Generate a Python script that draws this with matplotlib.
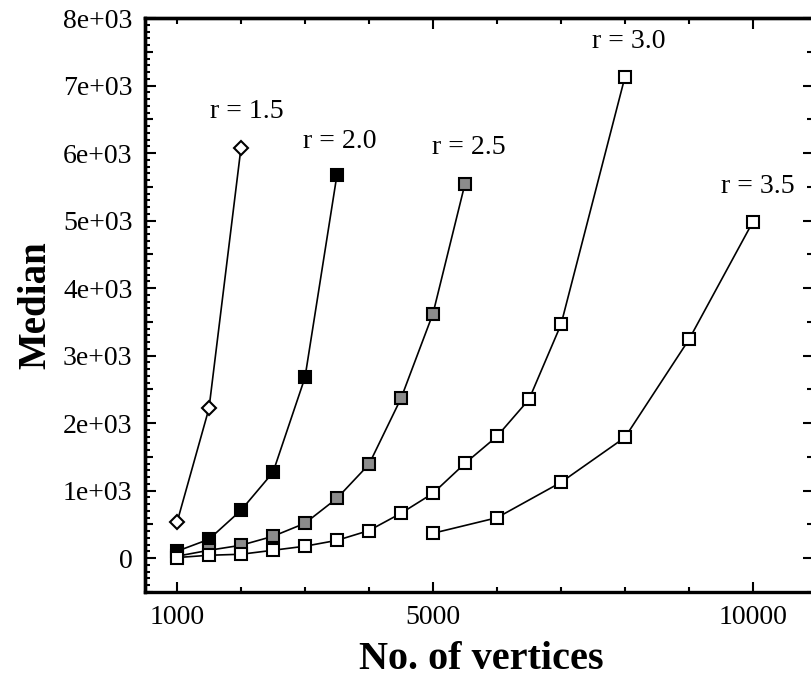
import matplotlib
matplotlib.use("Agg")
import matplotlib.pyplot as plt
from matplotlib.ticker import FixedLocator, MultipleLocator, FuncFormatter, NullFormatter

plt.rcParams['font.family'] = ['Liberation Serif', 'DejaVu Serif']

# =========================================================
# Data (median vs number of vertices, per r)
# =========================================================

n_r15 = [1000, 1500, 2000]
med_r15 = [530, 2220, 6080]

n_r20 = [1000, 1500, 2000, 2500, 3000, 3500]
med_r20 = [104, 281, 710, 1272, 2678, 5680]

n_r25 = [1000, 1500, 2000, 2500, 3000, 3500, 4000, 4500, 5000, 5500]
med_r25 = [30, 118, 192, 325, 518, 888, 1391, 2367, 3624, 5547]

n_r30 = [1000, 1500, 2000, 2500, 3000, 3500, 4000, 4500, 5000, 5500, 6000, 6500, 7000, 8000]
med_r30 = [10, 44, 59, 118, 178, 265, 410, 666, 962, 1405, 1805, 2352, 3462, 7130]

n_r35 = [5000, 6000, 7000, 8000, 9000, 10000]
med_r35 = [370, 600, 1124, 1790, 3240, 4985]

labels = ["r = 1.5", "r = 2.0", "r = 2.5", "r = 3.0", "r = 3.5"]
label_pos = [(2094, 6612), (3547, 6169), (5563, 6080), (8063, 7648), (10078, 5503)]

x_major = [1000, 5000, 10000]

# =========================================================
# Figure
# =========================================================

fig = plt.figure(figsize=(8.11, 6.79), dpi=100)
ax = fig.add_axes([145 / 811, 1 - 592 / 679, (817 - 145) / 811, (592 - 18) / 679])

line_kw = dict(color='black', lw=1.2, mec='black', mew=1.5, ms=9)
ax.plot(n_r15, med_r15, marker='D', mfc='white', **{**line_kw, 'ms': 7})
ax.plot(n_r20, med_r20, marker='s', mfc='black', **line_kw)
ax.plot(n_r25, med_r25, marker='s', mfc='#8c8c8c', **line_kw)
ax.plot(n_r30, med_r30, marker='s', mfc='white', **line_kw)
ax.plot(n_r35, med_r35, marker='s', mfc='white', **line_kw)

for txt, (xp, yp) in zip(labels, label_pos):
    ax.text(xp, yp, txt, fontsize=20, ha='center', va='center')

ax.set_xlim(500, 11000)
ax.set_ylim(-500, 8000)

for sp in ax.spines.values():
    sp.set_linewidth(2.4)

# bottom / left ticks
ax.xaxis.set_major_locator(FixedLocator(x_major))
ax.xaxis.set_minor_locator(MultipleLocator(1000))
ax.yaxis.set_major_locator(MultipleLocator(1000))
ax.yaxis.set_minor_locator(MultipleLocator(100))
ax.yaxis.set_major_formatter(FuncFormatter(lambda v, p: '0' if v == 0 else f'{v:.0e}'))

ax.tick_params(axis='both', which='both', direction='in', top=False, right=False,
               labelsize=20, width=1.5)
ax.tick_params(axis='x', which='major', length=7, pad=9)
ax.tick_params(axis='x', which='minor', length=3.5)
ax.tick_params(axis='y', which='major', length=8, pad=9)
ax.tick_params(axis='y', which='minor', length=3.5)

# medium ticks at the half-thousands on the left
sec_left = ax.secondary_yaxis('left')
sec_left.yaxis.set_major_locator(FixedLocator([-500, 500, 1500, 2500, 3500, 4500, 5500, 6500, 7500]))
sec_left.yaxis.set_major_formatter(NullFormatter())
sec_left.tick_params(direction='in', length=6, width=1.5)
sec_left.spines['left'].set_linewidth(2.4)

# top ticks
sec_top = ax.secondary_xaxis('top')
sec_top.xaxis.set_major_locator(FixedLocator([5000, 10000]))
sec_top.xaxis.set_minor_locator(MultipleLocator(1000))
sec_top.xaxis.set_major_formatter(NullFormatter())
sec_top.tick_params(which='major', direction='in', length=8, width=1.5)
sec_top.tick_params(which='minor', direction='in', length=4.5, width=1.5)
sec_top.spines['top'].set_linewidth(2.4)

# right ticks
sec_right = ax.secondary_yaxis('right')
sec_right.yaxis.set_major_locator(MultipleLocator(1000))
sec_right.yaxis.set_minor_locator(MultipleLocator(500))
sec_right.yaxis.set_major_formatter(NullFormatter())
sec_right.tick_params(which='major', direction='in', length=10, width=1.5)
sec_right.tick_params(which='minor', direction='in', length=7, width=1.5)

ax.set_xlabel("No. of vertices", fontsize=29, fontweight='bold', labelpad=8)
ax.set_ylabel("Median", fontsize=28, fontweight='bold', labelpad=6)

fig.savefig("out.png", dpi=100)
